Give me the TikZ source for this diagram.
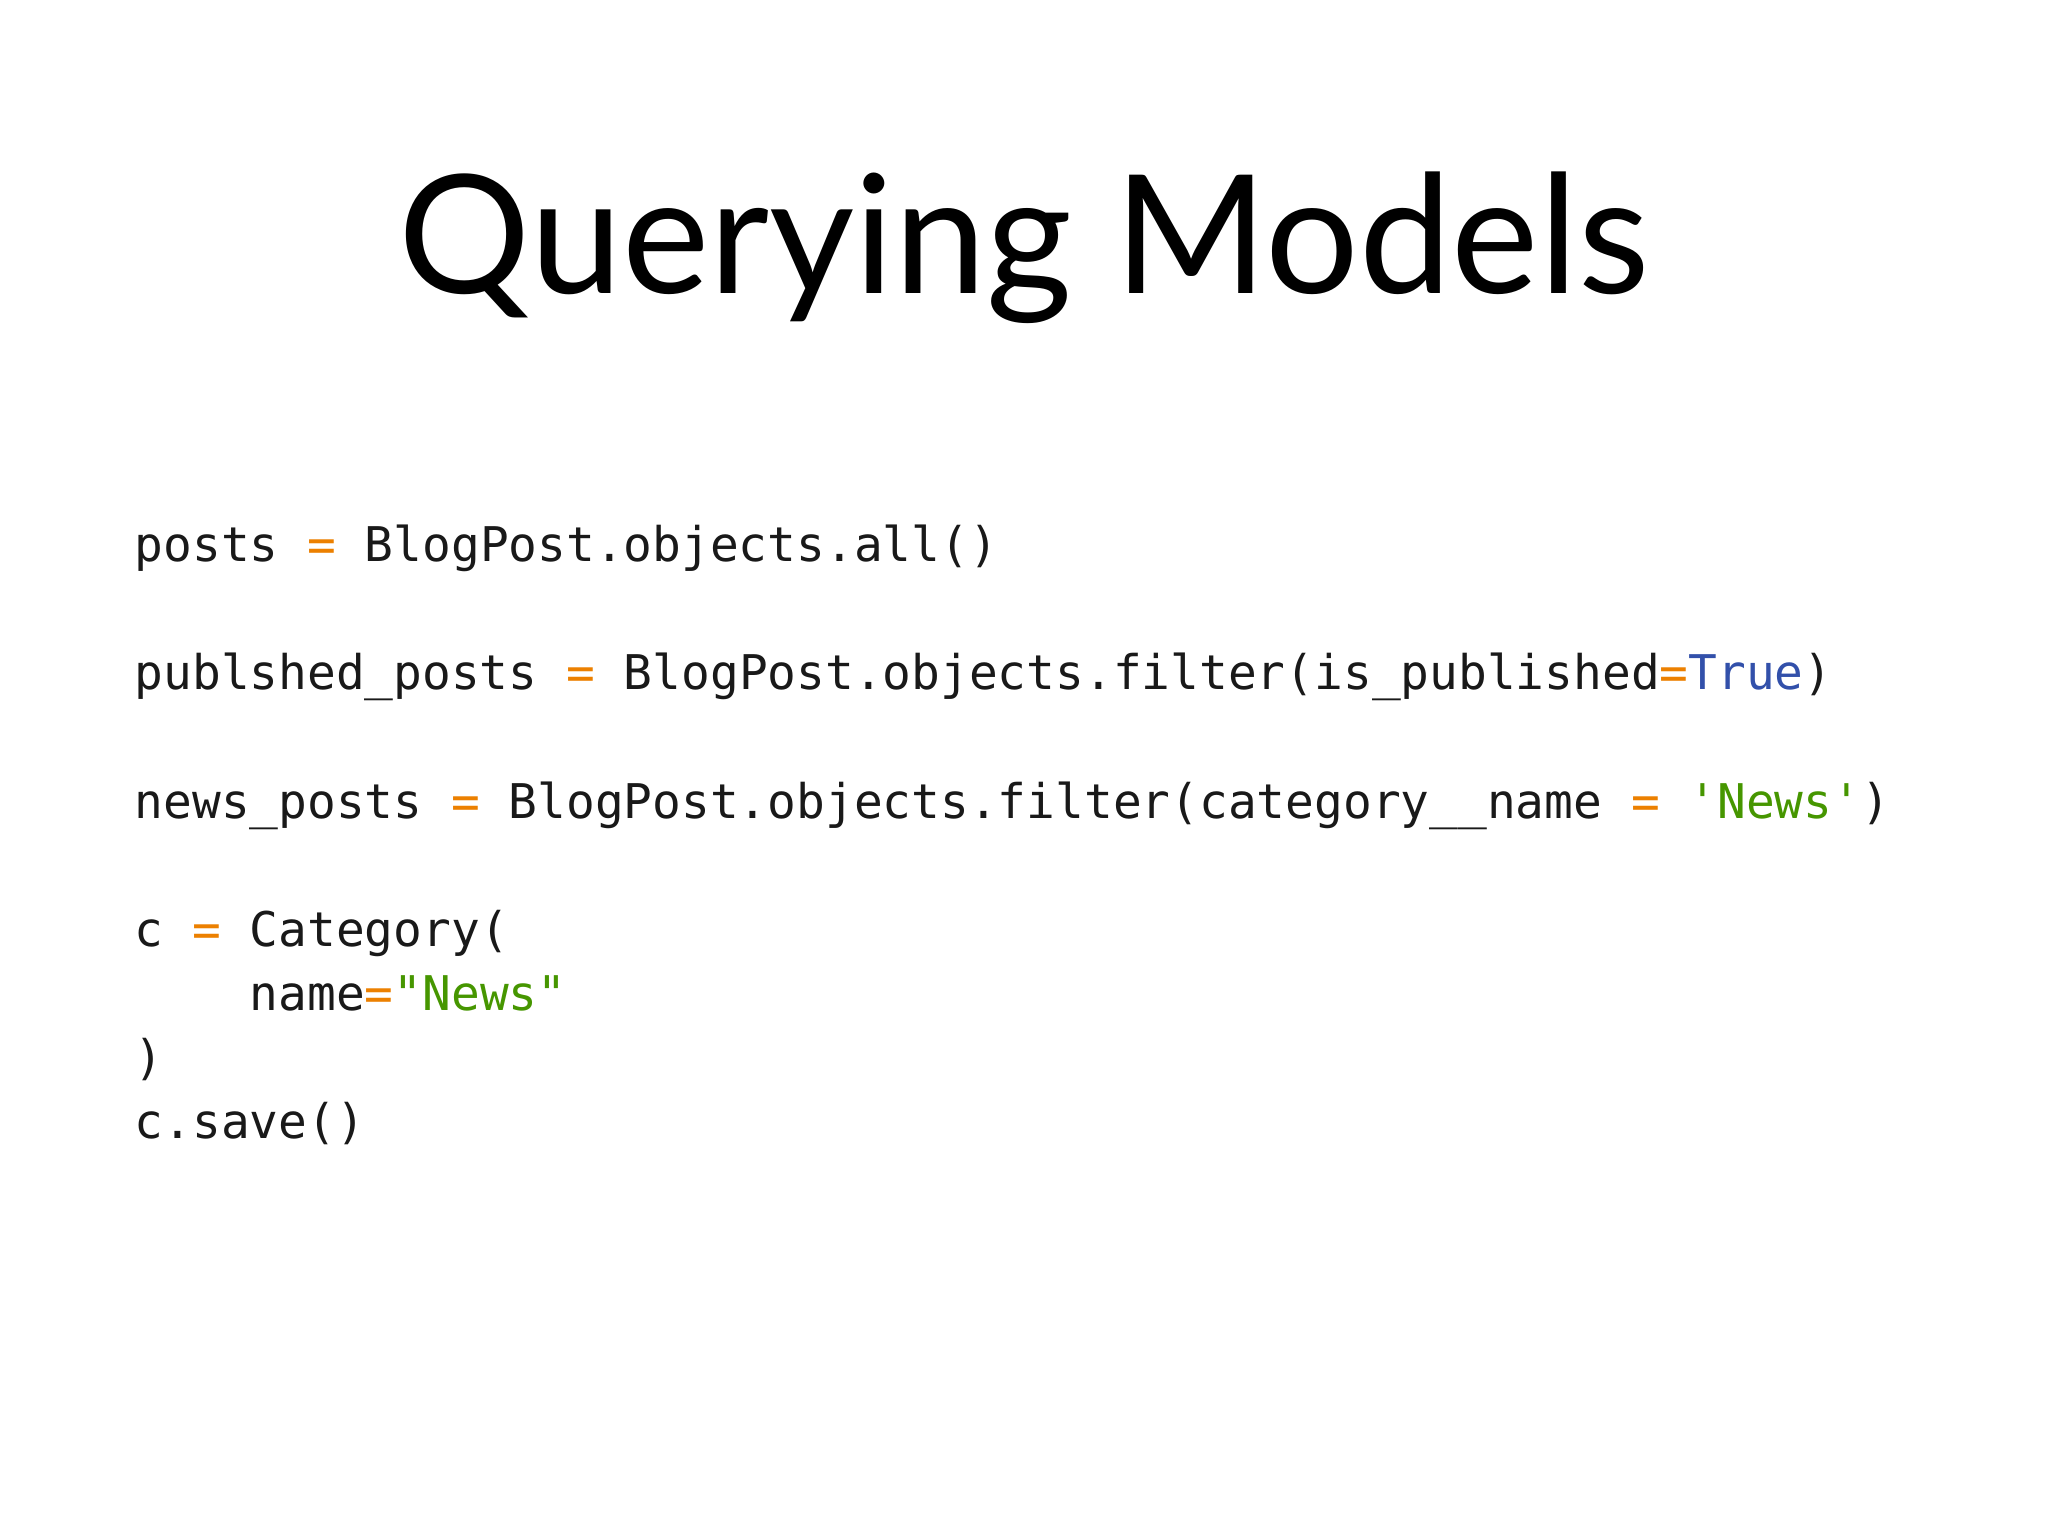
\documentclass[tikz,border=0pt]{standalone}
\usepackage{fontspec}
\setmainfont{Lato}
\setmonofont{DejaVu Sans Mono}
\definecolor{op}{RGB}{236,128,0}
\definecolor{kw}{RGB}{50,80,170}
\definecolor{st}{RGB}{70,150,0}
\tikzset{code/.style={anchor=base west,inner sep=0pt,font=\fontsize{13.6}{16}\ttfamily,text=black!90}}
\newcommand{\eq}{\textcolor{op}{=}}
\begin{document}
\begin{tikzpicture}[x=1cm,y=-1cm]
\fill[white] (0,0) rectangle (20.48,15.36);
\useasboundingbox (0,0) rectangle (20.48,15.36);
\node[anchor=base,inner sep=0pt,font=\fontsize{47}{50}\selectfont] (title) at (10.24,2.94) {Querying Models};
\node[code] (l1) at (1.34,5.62) {posts \eq{} BlogPost.objects.all()};
\node[code] (l2) at (1.34,6.90) {publshed\_posts \eq{} BlogPost.objects.filter(is\_published\eq\textcolor{kw}{True})};
\node[code] (l3) at (1.34,8.18) {news\_posts \eq{} BlogPost.objects.filter(category\_\_name \eq{} \textcolor{st}{'News'})};
\node[code] (l4) at (1.34,9.46) {c \eq{} Category(};
\node[code] (l5) at (1.34,10.10) {\phantom{c = }name\eq\textcolor{st}{"News"}};
\node[code] (l6) at (1.34,10.74) {)};
\node[code] (l7) at (1.34,11.38) {c.save()};
\end{tikzpicture}
\end{document}
